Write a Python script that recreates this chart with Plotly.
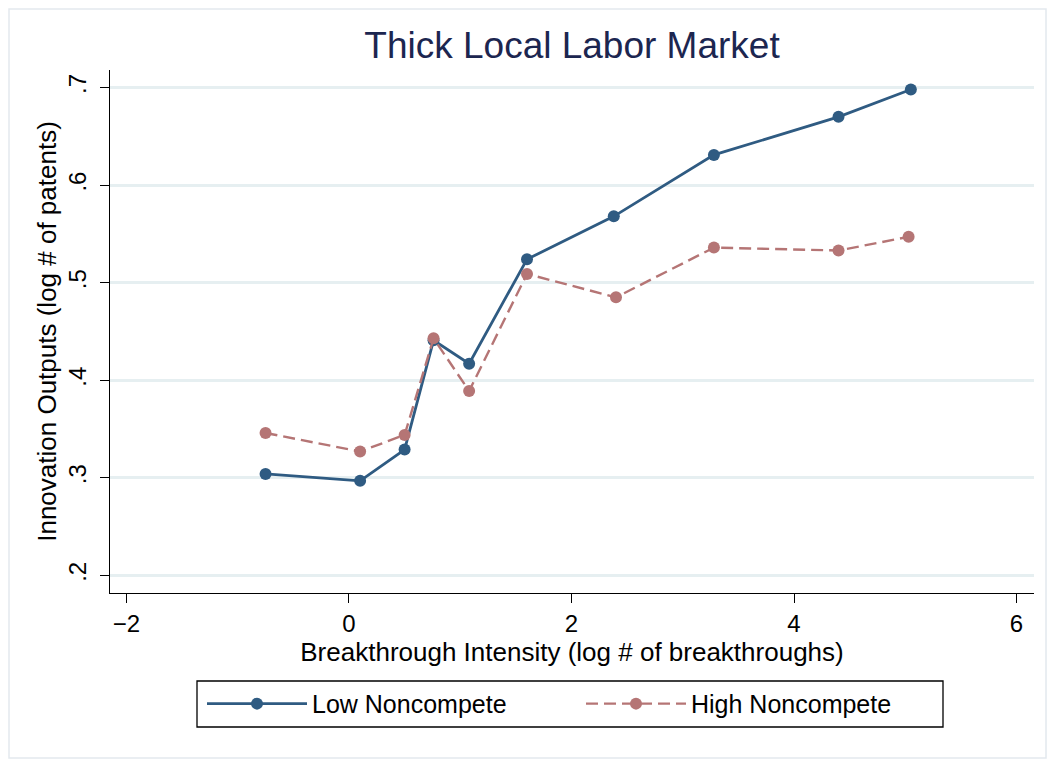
import plotly.graph_objects as go

x_low = [-0.75, 0.10, 0.50, 0.76, 1.08, 1.60, 2.38, 3.28, 4.40, 5.05]
y_low = [0.304, 0.297, 0.329, 0.441, 0.417, 0.524, 0.568, 0.631, 0.670, 0.698]
x_high = [-0.75, 0.10, 0.50, 0.76, 1.08, 1.60, 2.40, 3.28, 4.40, 5.03]
y_high = [0.346, 0.327, 0.344, 0.443, 0.389, 0.509, 0.485, 0.536, 0.533, 0.547]
x_ticks = [-2, 0, 2, 4, 6]
y_ticks = [0.2, 0.3, 0.4, 0.5, 0.6, 0.7]
y_tick_labels = [".2", ".3", ".4", ".5", ".6", ".7"]

BLUE = "#2f5b82"
PINK = "#b57575"
FONT = "Liberation Sans, Arial, sans-serif"

fig = go.Figure()
fig.add_trace(go.Scatter(x=x_low, y=y_low, mode="lines+markers", name="Low Noncompete",
                         line=dict(color=BLUE, width=2.8),
                         marker=dict(color=BLUE, size=12, symbol="circle"),
                         legend="legend"))
fig.add_trace(go.Scatter(x=x_high, y=y_high, mode="lines+markers", name="High Noncompete",
                         line=dict(color=PINK, width=2.4, dash="12px,6px"),
                         marker=dict(color=PINK, size=12, symbol="circle"),
                         legend="legend2"))

legend_common = dict(orientation="h", y=-0.212, yanchor="middle", xanchor="left",
                     bgcolor="rgba(0,0,0,0)", borderwidth=0,
                     font=dict(size=25, family=FONT, color="black"), itemwidth=100)

fig.update_layout(
    width=1039, height=751,
    margin=dict(l=102, r=13, t=62, b=166),
    paper_bgcolor="white", plot_bgcolor="white",
    font=dict(family=FONT, color="black", size=24),
    title=dict(text="Thick Local Labor Market", x=0.5, xref="paper", xanchor="center",
               y=0.951, yanchor="middle",
               font=dict(size=37, color="#1c2650", family=FONT)),
    xaxis=dict(range=[-2.148, 6.157], tickvals=x_ticks, ticks="outside", ticklen=9, tickwidth=1.3,
               tickcolor="black", showline=True, linecolor="black", linewidth=1.3, showgrid=False,
               zeroline=False, tickfont=dict(size=24),
               title=dict(text="Breakthrough Intensity (log # of breakthroughs)", standoff=4,
                          font=dict(size=26))),
    yaxis=dict(range=[0.182, 0.718], tickvals=y_ticks, ticktext=y_tick_labels, tickangle=-90,
               ticks="outside", ticklen=9, tickwidth=1.3, tickcolor="black", showline=True,
               linecolor="black", linewidth=1.3, showgrid=True, gridcolor="#e6eff1", gridwidth=2.5,
               zeroline=False, tickfont=dict(size=24), ticklabelstandoff=4,
               title=dict(text="Innovation Outputs (log # of patents)", standoff=0,
                          font=dict(size=26))),
    legend=dict(x=(202 - 110) / 924, **legend_common),
    legend2=dict(x=(581 - 110) / 924, **legend_common),
    showlegend=True,
)

# legend frame
fig.add_shape(type="rect", xref="paper", yref="paper",
              x0=(197 - 110) / 924, x1=(943 - 110) / 924,
              y0=(593 - 727) / 523, y1=(593 - 681) / 523,
              line=dict(color="black", width=1.3), fillcolor="white", layer="below")
# outer graph frame
fig.add_shape(type="rect", xref="paper", yref="paper", x0=-0.1093, x1=1.0130, y0=-0.3155, y1=1.1166,
              line=dict(color="#e3e9ee", width=1.5), fillcolor="rgba(0,0,0,0)", layer="below")

fig.write_html("out.html")
